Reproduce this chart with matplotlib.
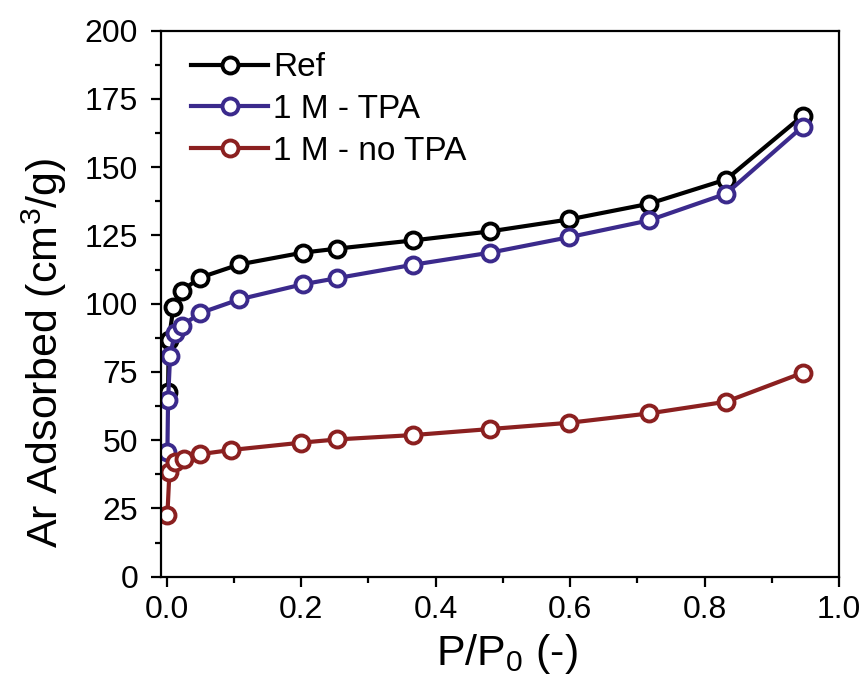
import matplotlib
matplotlib.use("Agg")
import matplotlib.pyplot as plt
from matplotlib.ticker import MultipleLocator

plt.rcParams['font.family'] = ['Liberation Sans', 'DejaVu Sans']
plt.rcParams['mathtext.fontset'] = 'custom'
plt.rcParams['mathtext.rm'] = 'Liberation Sans'
plt.rcParams['mathtext.it'] = 'Liberation Sans:italic'

# Argon isotherms
ref_p = [0.002, 0.003, 0.010, 0.022, 0.050, 0.108, 0.202, 0.254, 0.367, 0.481, 0.599, 0.717, 0.832, 0.946]
ref_q = [67.5, 86.6, 98.8, 104.7, 109.6, 114.4, 118.7, 120.2, 123.2, 126.5, 130.9, 136.6, 145.5, 168.9]

tpa_p = [0.001, 0.002, 0.005, 0.012, 0.022, 0.050, 0.108, 0.202, 0.254, 0.367, 0.481, 0.599, 0.717, 0.832, 0.946]
tpa_q = [45.7, 64.7, 80.9, 89.1, 91.9, 96.6, 101.6, 107.1, 109.4, 114.3, 118.7, 124.4, 130.5, 140.3, 164.9]

notpa_p = [0.001, 0.004, 0.012, 0.025, 0.050, 0.095, 0.200, 0.254, 0.367, 0.481, 0.599, 0.717, 0.832, 0.946]
notpa_q = [22.7, 38.3, 42.0, 43.2, 44.9, 46.4, 49.1, 50.3, 51.9, 54.1, 56.4, 59.8, 64.1, 74.7]

series_labels = ["Ref", "1 M - TPA", "1 M - no TPA"]
series_colors = ["#000000", "#3b2a8c", "#8b2020"]

x_ticks = [0.0, 0.2, 0.4, 0.6, 0.8, 1.0]
y_ticks = [0, 25, 50, 75, 100, 125, 150, 175, 200]

fig = plt.figure(figsize=(8.68, 6.86), dpi=100)
ax = fig.add_axes([0.1855, 0.1593, 0.7811, 0.7959])

for p, q, lab, col in zip([ref_p, tpa_p, notpa_p], [ref_q, tpa_q, notpa_q],
                          series_labels, series_colors):
    ax.plot(p, q, '-o', color=col, lw=3.0, ms=11.5, mfc='white', mec=col,
            mew=2.8, label=lab)

ax.set_xlim(-0.0085, 1.0)
ax.set_ylim(0, 200)
ax.set_xticks(x_ticks)
ax.set_xticklabels([f"{v:.1f}" for v in x_ticks])
ax.set_yticks(y_ticks)
ax.set_yticklabels([str(v) for v in y_ticks])
ax.xaxis.set_minor_locator(MultipleLocator(0.1))
ax.yaxis.set_minor_locator(MultipleLocator(12.5))

for s in ax.spines.values():
    s.set_linewidth(1.6)
ax.tick_params(which='major', direction='out', length=7.5, width=1.6,
               labelsize=23)
ax.tick_params(axis='y', which='major', pad=9)
ax.tick_params(axis='x', which='major', pad=6)
ax.tick_params(which='minor', direction='out', length=4.5, width=1.6)

ax.set_xlabel(r"P/P$_0$ (-)", fontsize=31)
ax.set_ylabel(r"Ar Adsorbed (cm$^3$/g)", fontsize=31)
ax.xaxis.set_label_coords(0.51, -0.101)
ax.yaxis.set_label_coords(-0.135, 0.41)

ax.legend(loc='upper left', frameon=False, fontsize=24, handlelength=2.3,
          handletextpad=0.15, labelspacing=0.32, borderaxespad=0.0,
          bbox_to_anchor=(0.025, 0.985))

fig.savefig("out.png", dpi=100)
